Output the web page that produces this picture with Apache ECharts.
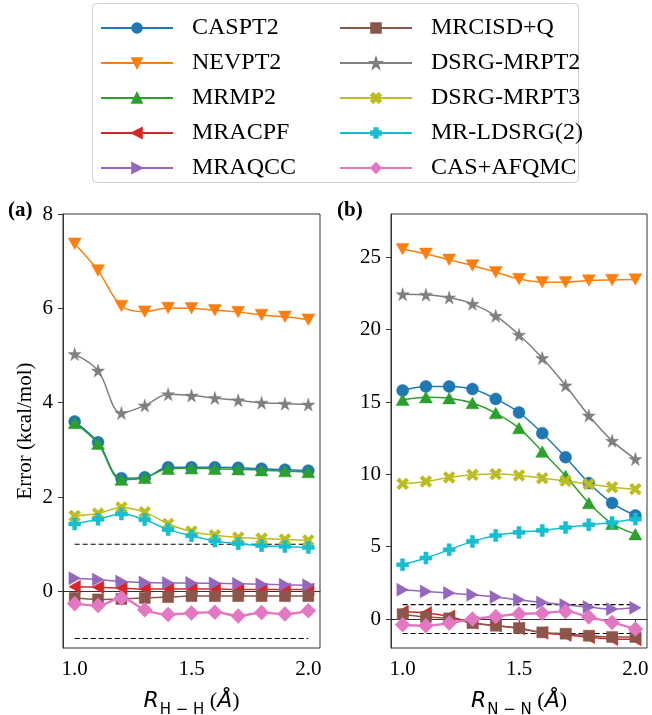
<!DOCTYPE html>
<html>
<head>
<meta charset="utf-8">
<script src="https://cdn.jsdelivr.net/npm/echarts@6/dist/echarts.min.js"></script>
<style>
html,body{margin:0;padding:0;background:#fff;}
#chart{width:652px;height:715px;}
</style>
</head>
<body>
<div id="chart"></div>
<script>
// ---------- data ----------
const xs = [1.0, 1.1, 1.2, 1.3, 1.4, 1.5, 1.6, 1.7, 1.8, 1.9, 2.0];
const methodNames = ['CASPT2', 'NEVPT2', 'MRMP2', 'MRACPF', 'MRAQCC', 'MRCISD+Q', 'DSRG-MRPT2', 'DSRG-MRPT3', 'MR-LDSRG(2)', 'CAS+AFQMC'];

// panel (a) H-H
const a_CASPT2 = [3.60, 3.16, 2.40, 2.42, 2.63, 2.63, 2.63, 2.62, 2.60, 2.58, 2.56];
const a_NEVPT2 = [7.37, 6.80, 6.05, 5.93, 6.01, 6.00, 5.96, 5.92, 5.86, 5.82, 5.76];
const a_MRMP2 = [3.57, 3.13, 2.37, 2.41, 2.60, 2.61, 2.60, 2.59, 2.57, 2.55, 2.53];
const a_MRACPF = [0.10, 0.09, 0.07, 0.05, 0.05, 0.05, 0.05, 0.04, 0.04, 0.04, 0.04];
const a_MRAQCC = [0.28, 0.25, 0.21, 0.19, 0.18, 0.18, 0.17, 0.16, 0.15, 0.14, 0.13];
const a_MRCISDQ = [-0.14, -0.17, -0.16, -0.14, -0.12, -0.10, -0.10, -0.10, -0.10, -0.10, -0.10];
const a_DSRG2 = [5.03, 4.68, 3.78, 3.94, 4.18, 4.15, 4.10, 4.05, 4.00, 3.98, 3.96];
const a_DSRG3 = [1.60, 1.65, 1.78, 1.68, 1.43, 1.27, 1.19, 1.14, 1.12, 1.10, 1.08];
const a_LDSRG = [1.43, 1.53, 1.64, 1.52, 1.31, 1.18, 1.07, 1.01, 0.97, 0.95, 0.93];
const a_AFQMC = [-0.26, -0.30, -0.14, -0.39, -0.49, -0.46, -0.44, -0.52, -0.45, -0.48, -0.41];

// panel (b) N-N
const b_CASPT2 = [15.80, 16.08, 16.08, 15.90, 15.22, 14.28, 12.85, 11.19, 9.40, 8.02, 7.16];
const b_NEVPT2 = [25.57, 25.25, 24.83, 24.44, 23.98, 23.50, 23.29, 23.29, 23.40, 23.44, 23.47];
const b_MRMP2 = [15.16, 15.34, 15.27, 14.93, 14.24, 13.20, 11.58, 9.90, 8.02, 6.59, 5.87];
const b_MRACPF = [0.50, 0.42, 0.18, -0.25, -0.45, -0.65, -0.95, -1.10, -1.25, -1.38, -1.40];
const b_MRAQCC = [2.03, 1.91, 1.80, 1.68, 1.52, 1.33, 1.15, 0.97, 0.83, 0.69, 0.78];
const b_MRCISDQ = [0.34, 0.14, 0.05, -0.28, -0.46, -0.62, -0.92, -1.01, -1.15, -1.24, -1.24];
const b_DSRG2 = [22.46, 22.42, 22.23, 21.79, 20.96, 19.65, 18.04, 16.15, 14.07, 12.32, 11.06];
const b_DSRG3 = [9.35, 9.51, 9.79, 9.97, 10.02, 9.93, 9.74, 9.56, 9.33, 9.12, 8.98];
const b_LDSRG = [3.75, 4.22, 4.79, 5.37, 5.78, 5.99, 6.13, 6.33, 6.52, 6.68, 6.91];
const b_AFQMC = [-0.39, -0.46, -0.28, 0.00, 0.18, 0.35, 0.41, 0.53, 0.14, -0.23, -0.69];

// reference lines (±1 kcal/mol) over the x span
const refLevels = [1, -1];
const refSpan = [1.0, 2.0];

// tick labels
const xTicks = [1.0, 1.5, 2.0];
const aYTicks = [0, 2, 4, 6, 8];
const bYTicks = [0, 5, 10, 15, 20, 25];

// ---------- styles ----------
const colors = ['#1f77b4', '#ff7f0e', '#2ca02c', '#d62728', '#9467bd', '#8c564b', '#7f7f7f', '#bcbd22', '#17becf', '#e377c2'];
const symbols = [
  'circle',
  'path://M0,0 L100,0 L50,87 Z',
  'path://M50,0 L100,87 L0,87 Z',
  'path://M0,50 L87,0 L87,100 Z',
  'path://M0,0 L87,50 L0,100 Z',
  'rect',
  'path://M50,0 L61,35 L98,35 L68,57 L79,91 L50,70 L21,91 L32,57 L2,35 L39,35 Z',
  'path://M0,22 L22,0 L50,28 L78,0 L100,22 L72,50 L100,78 L78,100 L50,72 L22,100 L0,78 L28,50 Z',
  'path://M33,0 H67 V33 H100 V67 H67 V100 H33 V67 H0 V33 H33 Z',
  'diamond'
];
const symSizes = [12, [13, 11.5], [13, 11.5], [11.5, 13], [11.5, 13], 11, 13, 12, 12, 15];

const aData = [a_CASPT2, a_NEVPT2, a_MRMP2, a_MRACPF, a_MRAQCC, a_MRCISDQ, a_DSRG2, a_DSRG3, a_LDSRG, a_AFQMC];
const bData = [b_CASPT2, b_NEVPT2, b_MRMP2, b_MRACPF, b_MRAQCC, b_MRCISDQ, b_DSRG2, b_DSRG3, b_LDSRG, b_AFQMC];

const serif = 'Liberation Serif';
const series = [];
function addPanel(dataSets, idx) {
  dataSets.forEach((vals, i) => {
    series.push({
      name: methodNames[i],
      type: 'line',
      xAxisIndex: idx, yAxisIndex: idx,
      data: xs.map((x, k) => [x, vals[k]]),
      smooth: 0.35,
      symbol: symbols[i],
      symbolSize: symSizes[i],
      showSymbol: true,
      itemStyle: { color: colors[i], borderColor: colors[i], borderWidth: 0.5 },
      lineStyle: { color: colors[i], width: i === 9 ? 2.4 : 1.5 },
      z: 3 + i,
      animation: false
    });
  });
  refLevels.forEach(lv => {
    series.push({
      type: 'line',
      xAxisIndex: idx, yAxisIndex: idx,
      data: refSpan.map(x => [x, lv]),
      symbol: 'none',
      lineStyle: { color: '#000', width: 1.1, type: [5, 3] },
      z: 2,
      silent: true,
      animation: false
    });
  });
}
addPanel(aData, 0);
addPanel(bData, 1);

const axisLine = { show: true, lineStyle: { color: '#333', width: 1 } };
const tickStyle = { length: 5, lineStyle: { color: '#333', width: 1 } };

function xAxisName(sub) {
  return '{r|R}{s|' + sub + '}{p| (}{a|Å}{p|)}';
}
const xNameRich = {
  r: { fontFamily: 'DejaVu Sans', fontStyle: 'italic', fontSize: 22, color: '#000', verticalAlign: 'bottom', lineHeight: 26 },
  s: { fontFamily: 'DejaVu Sans', fontSize: 15, color: '#000', verticalAlign: 'bottom', lineHeight: 20, padding: [0, 0, -6, 1] },
  p: { fontFamily: serif, fontSize: 22, color: '#000', verticalAlign: 'bottom', lineHeight: 26 },
  a: { fontFamily: 'DejaVu Sans', fontStyle: 'italic', fontSize: 22, color: '#000', verticalAlign: 'bottom', lineHeight: 26 }
};

function makeX(idx, sub) {
  return {
    type: 'value', gridIndex: idx, min: 0.95, max: 2.05,
    axisLine: axisLine,
    axisTick: { show: true, customValues: xTicks, ...tickStyle },
    axisLabel: { customValues: xTicks, formatter: v => Number(v).toFixed(1), margin: 11, fontFamily: serif, fontSize: 21, color: '#000' },
    splitLine: { show: false },
    name: xAxisName(sub),
    nameLocation: 'middle', nameGap: 38,
    nameTextStyle: { rich: xNameRich }
  };
}
function makeY(idx, min, max, ticks, name) {
  const o = {
    type: 'value', gridIndex: idx, min: min, max: max,
    axisLine: axisLine,
    axisTick: { show: true, customValues: ticks, ...tickStyle },
    axisLabel: { customValues: ticks, formatter: v => String(v), margin: 10, fontFamily: serif, fontSize: 21, color: '#000' },
    splitLine: { show: false }
  };
  if (name) {
    o.name = name;
    o.nameLocation = 'middle';
    o.nameGap = 27;
    o.nameTextStyle = { fontFamily: serif, fontSize: 21, color: '#000' };
  }
  return o;
}

const legendCommon = {
  orient: 'vertical',
  itemWidth: 72, itemHeight: 12,
  itemGap: 11,
  padding: 0,
  selectedMode: false,
  textStyle: { fontFamily: serif, fontSize: 24, color: '#000', lineHeight: 22, padding: [0, 0, 0, 14] }
};

const gridCommon = { show: true, borderColor: '#333', borderWidth: 1, backgroundColor: 'transparent', outerBoundsMode: 'none', containLabel: false };

const option = {
  backgroundColor: '#fff',
  animation: false,
  textStyle: { fontFamily: serif },
  title: [
    { text: '(a)', left: 8, top: 200, padding: 0, textStyle: { fontFamily: serif, fontWeight: 'bold', fontSize: 21, color: '#000' } },
    { text: '(b)', left: 337, top: 200, padding: 0, textStyle: { fontFamily: serif, fontWeight: 'bold', fontSize: 21, color: '#000' } }
  ],
  graphic: [{
    type: 'rect', left: 92, top: 3, z: -1,
    shape: { width: 486, height: 179, r: 4 },
    style: { fill: '#fff', stroke: '#d0d0d0', lineWidth: 1 }
  }],
  legend: [
    { ...legendCommon, left: 100, top: 16, data: methodNames.slice(0, 5) },
    { ...legendCommon, left: 339, top: 16, data: methodNames.slice(5) }
  ],
  grid: [
    { ...gridCommon, left: 63, top: 214, width: 257, height: 434 },
    { ...gridCommon, left: 391, top: 214, width: 256, height: 434 }
  ],
  xAxis: [makeX(0, 'H − H'), makeX(1, 'N − N')],
  yAxis: [makeY(0, -1.2, 8, aYTicks, 'Error (kcal/mol)'), makeY(1, -2, 28, bYTicks, null)],
  series: series
};

const chart = echarts.init(document.getElementById('chart'), null, { renderer: 'canvas' });
chart.setOption(option);
</script>
</body>
</html>
